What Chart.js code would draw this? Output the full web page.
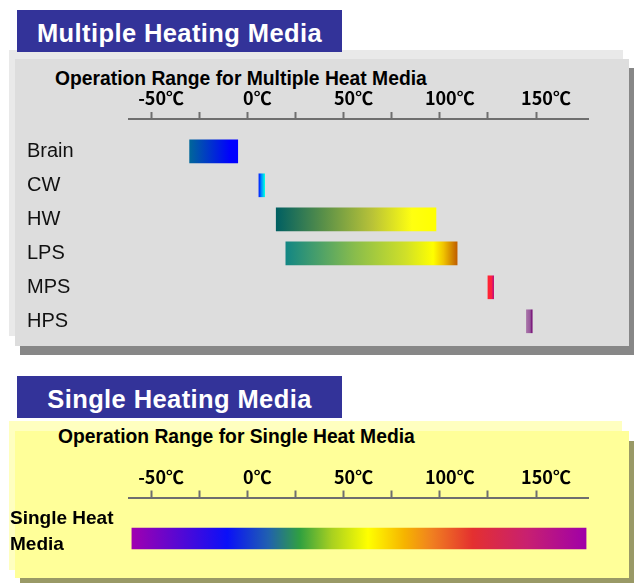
<!DOCTYPE html>
<html>
<head>
<meta charset="utf-8">
<title>Operation Range for Heat Media</title>
<script src="https://cdn.jsdelivr.net/npm/chart.js@4.4.1/dist/chart.umd.min.js"></script>
<style>
  body { margin: 0; width: 636px; height: 583px; background: #fff; position: relative; overflow: hidden;
         font-family: "Liberation Sans", Arial, sans-serif; }
  .box { position: absolute; }
  .head { position: absolute; left: 17px; width: 325px; height: 42px; background: #333399; color: #fff;
          font-weight: bold; font-size: 25.5px; line-height: 46px; text-align: center; letter-spacing: 0.4px;
          overflow: hidden; white-space: nowrap; }
  .ctitle { position: absolute; font-weight: bold; font-size: 19.3px; line-height: 22px; color: #000; white-space: nowrap; }
  .wrap { position: absolute; left: 0; width: 636px; }
</style>
</head>
<body>

<!-- top panel -->
<div class="box" style="left:9px;top:50px;width:614px;height:286px;background:#e9e9e9"></div>
<div class="box" style="left:20px;top:68px;width:614px;height:287px;background:#878787"></div>
<div class="box" style="left:15px;top:59px;width:614px;height:287px;background:#dddddd"></div>
<div class="head" style="top:10px">Multiple Heating Media</div>
<div class="ctitle" style="left:55px;top:68px">Operation Range for Multiple Heat Media</div>
<div class="wrap" style="top:60px;height:285px"><canvas id="multi"></canvas></div>

<!-- bottom panel -->
<div class="box" style="left:9px;top:421px;width:613px;height:149px;background:#ffffc0"></div>
<div class="box" style="left:20px;top:441px;width:614px;height:142px;background:#999966"></div>
<div class="box" style="left:15px;top:431px;width:614px;height:147px;background:#ffff99"></div>
<div class="head" style="top:376px">Single Heating Media</div>
<div class="ctitle" style="left:58px;top:426px">Operation Range for Single Heat Media</div>
<div class="wrap" style="top:431px;height:150px"><canvas id="single"></canvas></div>

<script>
// --------- Data ----------
const mediaNames = ['Brain', 'CW', 'HW', 'LPS', 'MPS', 'HPS'];
const rangeLow   = [-30, 6, 15, 20, 125, 145];
const rangeHigh  = [-5, 9, 98, 109, 128, 148];

const singleName = ['Single Heat', 'Media'];
const singleLow  = [-60];
const singleHigh = [176];

const tickValues = [-50, -25, 0, 25, 50, 75, 100, 125, 150];
const tickLabels = ['-50℃', '', '0℃', '', '50℃', '', '100℃', '', '150℃'];

// --------- Colours (gradient stops per bar) ----------
const multiStops = [
  [[0, '#00669a'], [0.85, '#0000ff'], [1, '#0000ff']],                                   // Brain
  [[0, '#0020ff'], [0.45, '#0090ff'], [1, '#00ffe0']],                                   // CW
  [[0, '#005f62'], [0.3, '#5a9048'], [0.6, '#b8c238'], [0.85, '#ffff10'], [1, '#ffff00']], // HW
  [[0, '#128684'], [0.4, '#88bc4c'], [0.7, '#d0e028'], [0.86, '#ffff00'],
   [0.92, '#f0c400'], [1, '#c05e00']],                                                   // LPS
  [[0, '#ff2430'], [0.6, '#ff2040'], [1, '#c0107a']],                                   // MPS
  [[0, '#a874a8'], [0.65, '#98589c'], [1, '#6e006e']]                                    // HPS
];
const singleStops = [
  [[0, '#a000b0'], [0.21, '#0a10f8'], [0.3, '#2060b0'], [0.37, '#30a040'], [0.44, '#a8d020'],
   [0.52, '#ffff00'], [0.6, '#f6b400'], [0.66, '#f08020'], [0.75, '#e43030'],
   [0.87, '#c82070'], [1, '#a000a8']]
];

// --------- Helpers ----------
function gradientFill(stopsList, lows, highs) {
  return (c) => {
    const chart = c.chart;
    const xs = chart.scales.x;
    if (!xs || c.dataIndex === undefined) return '#888';
    const x0 = xs.getPixelForValue(lows[c.dataIndex]);
    const x1 = xs.getPixelForValue(highs[c.dataIndex]);
    if (!isFinite(x0) || !isFinite(x1)) return '#888';
    const g = chart.ctx.createLinearGradient(x0, 0, x1, 0);
    stopsList[c.dataIndex].forEach(([o, col]) => g.addColorStop(o, col));
    return g;
  };
}

// keep the layout from adding room for overhanging labels
function noPad(s) {
  s.paddingTop = s.paddingBottom = s.paddingLeft = s.paddingRight = 0;
}

function tempAxis() {
  return {
    type: 'linear',
    position: 'top',
    min: -61.5,
    max: 177,
    afterBuildTicks: s => { s.ticks = tickValues.map(v => ({ value: v })); },
    afterFit: s => { s.height = 32; noPad(s); },
    grid: { display: true, drawOnChartArea: false, tickLength: 7, tickWidth: 2, tickColor: '#6e6e6e' },
    border: { display: true, color: '#6e6e6e', width: 2 },
    ticks: {
      autoSkip: false, maxRotation: 0, padding: 3, labelOffset: 10, color: '#000',
      font: { family: '"Noto Sans CJK JP", sans-serif', weight: 'bold', size: 18 },
      callback: (v, i) => tickLabels[i]
    }
  };
}

const common = {
  indexAxis: 'y',
  responsive: true,
  maintainAspectRatio: false,
  animation: false,
  plugins: { legend: { display: false }, tooltip: { enabled: false } }
};

// --------- Multiple heat media ----------
new Chart(document.getElementById('multi'), {
  type: 'bar',
  data: {
    datasets: [{
      data: mediaNames.map((n, i) => ({ x: [rangeLow[i], rangeHigh[i]], y: i })),
      backgroundColor: gradientFill(multiStops, rangeLow, rangeHigh),
      borderWidth: 0,
      barThickness: 23
    }]
  },
  options: {
    ...common,
    layout: { padding: { top: 27, left: 27, right: 48, bottom: 5 } },
    scales: {
      x: tempAxis(),
      y: {
        type: 'linear',
        offset: false,
        reverse: true,
        min: -0.95,
        max: 5.55,
        afterBuildTicks: s => { s.ticks = mediaNames.map((n, i) => ({ value: i })); },
        afterFit: s => { s.width = 102; noPad(s); },
        grid: { display: false },
        border: { display: false },
        ticks: {
          autoSkip: false, crossAlign: 'far', color: '#111',
          font: { family: '"Liberation Sans", Arial, sans-serif', size: 20 },
          callback: v => mediaNames[v]
        }
      }
    }
  }
});

// --------- Single heat media ----------
new Chart(document.getElementById('single'), {
  type: 'bar',
  data: {
    labels: [singleName],
    datasets: [{
      data: singleLow.map((lo, i) => [lo, singleHigh[i]]),
      backgroundColor: gradientFill(singleStops, singleLow, singleHigh),
      borderWidth: 0,
      barThickness: 21
    }]
  },
  options: {
    ...common,
    layout: { padding: { top: 34.5, left: 10, right: 48, bottom: 1.5 } },
    scales: {
      x: tempAxis(),
      y: {
        afterFit: s => { s.width = 119; noPad(s); },
        grid: { display: false },
        border: { display: false },
        ticks: {
          crossAlign: 'far', labelOffset: -6.5, color: '#000',
          font: { family: '"Liberation Sans", Arial, sans-serif', weight: 'bold', size: 19, lineHeight: 1.35 }
        }
      }
    }
  }
});
</script>
</body>
</html>
